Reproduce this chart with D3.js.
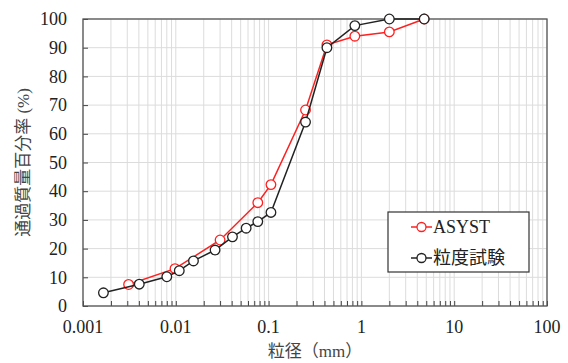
<!DOCTYPE html>
<html>
<head>
<meta charset="utf-8">
<script src="https://cdn.jsdelivr.net/npm/d3@7"></script>
<style>
  body { margin: 0; background: #fff; }
  svg text { font-family: "Liberation Serif", "Noto Sans CJK JP", serif; fill: #222; }
</style>
</head>
<body>
<div id="chart"></div>
<script>
// grain size (mm) vs passing percentage
const asystSize = [0.0031, 0.0098, 0.030, 0.0765, 0.106, 0.25, 0.425, 0.85, 2.0, 4.75];
const asystPass = [7.5, 13.0, 23.0, 36.0, 42.3, 68.3, 91.0, 94.0, 95.5, 100];
const testSize = [0.00166, 0.00404, 0.0080, 0.0109, 0.0155, 0.0265, 0.0408, 0.0573, 0.0765, 0.106, 0.25, 0.425, 0.85, 2.0, 4.75];
const testPass = [4.6, 7.6, 10.2, 12.3, 15.7, 19.5, 24.1, 27.1, 29.4, 32.6, 64.1, 90.0, 97.7, 100, 100];
const xTicks = [0.001, 0.01, 0.1, 1, 10, 100];
const xTickLabels = ["0.001", "0.01", "0.1", "1", "10", "100"];
const yTicks = [0, 10, 20, 30, 40, 50, 60, 70, 80, 90, 100];

const series = [
  { name: "ASYST", color: "#ff2020", size: asystSize, pass: asystPass },
  { name: "粒度試験", color: "#222222", size: testSize, pass: testPass }
];

const W = 568, H = 363;
const margin = { top: 19, right: 21, bottom: 57, left: 83 };
const cw = W - margin.left - margin.right;
const ch = H - margin.top - margin.bottom;

const svg = d3.select("#chart").append("svg")
  .attr("width", W)
  .attr("height", H);

const g = svg.append("g")
  .attr("transform", `translate(${margin.left},${margin.top})`);

const x = d3.scaleLog().domain([0.001, 100]).range([0, cw]);
const y = d3.scaleLinear().domain([0, 100]).range([ch, 0]);

// minor positions 1..9 in each decade
const minor = [];
for (let e = -3; e < 2; e++) {
  for (let m = 1; m <= 9; m++) minor.push(m * Math.pow(10, e));
}
minor.push(100);

// gridlines
g.append("g").classed("gridlines x", true)
  .selectAll("line").data(minor).join("line")
  .attr("x1", d => x(d)).attr("x2", d => x(d))
  .attr("y1", 0).attr("y2", ch)
  .style("stroke", "#dcdcdc").style("stroke-width", "1px");

g.append("g").classed("gridlines y", true)
  .selectAll("line").data(yTicks).join("line")
  .attr("x1", 0).attr("x2", cw)
  .attr("y1", d => y(d)).attr("y2", d => y(d))
  .style("stroke", "#dcdcdc").style("stroke-width", "1px");

// axes with inward ticks
const axisX = d3.axisBottom(x).tickValues(minor).tickSize(-5).tickFormat("");
const gx = g.append("g")
  .attr("transform", `translate(0,${ch})`)
  .classed("axis x bottom", true)
  .call(axisX);
gx.select(".domain").remove();
gx.selectAll(".tick line").style("stroke", "#444").style("stroke-width", "1px");

g.append("g").classed("xlabels", true)
  .selectAll("text").data(xTicks).join("text")
  .attr("x", d => x(d))
  .attr("y", ch + 23)
  .attr("text-anchor", "middle")
  .attr("dominant-baseline", "middle")
  .style("font-size", "18px")
  .text((d, i) => xTickLabels[i]);

const axisY = d3.axisLeft(y).tickValues(yTicks).tickSize(-5).tickPadding(16).tickFormat(d3.format("d"));
const gy = g.append("g").classed("axis y left", true).call(axisY);
gy.select(".domain").remove();
gy.selectAll(".tick line").style("stroke", "#444").style("stroke-width", "1px");
gy.selectAll(".tick text")
  .style("font-size", "18px")
  .style("font-family", "'Liberation Serif', serif")
  .attr("fill", "#222");

// frame
g.append("rect")
  .attr("width", cw).attr("height", ch)
  .style("fill", "none").style("stroke", "#555").style("stroke-width", "1.3px");

// series
const lineFn = d3.line()
  .x(d => x(d[0]))
  .y(d => y(d[1]));

series.forEach(s => {
  const pts = s.size.map((v, i) => [v, s.pass[i]]);
  const sg = g.append("g").classed("series", true);
  sg.append("path")
    .datum(pts)
    .attr("d", lineFn)
    .style("fill", "none")
    .style("stroke", s.color)
    .style("stroke-width", "1.5px");
  sg.selectAll("circle").data(pts).join("circle")
    .attr("cx", d => x(d[0]))
    .attr("cy", d => y(d[1]))
    .attr("r", 4.8)
    .style("fill", "#fff")
    .style("stroke", s.color)
    .style("stroke-width", "1.3px");
});

// legend
const lg = svg.append("g").attr("transform", "translate(388,212)");
lg.append("rect")
  .attr("width", 141).attr("height", 60)
  .style("fill", "#fff").style("stroke", "#333").style("stroke-width", "1.2px");
series.forEach((s, i) => {
  const yy = 15 + i * 31;
  lg.append("line")
    .attr("x1", 23).attr("x2", 44).attr("y1", yy).attr("y2", yy)
    .style("stroke", s.color).style("stroke-width", "1.5px");
  lg.append("circle")
    .attr("cx", 33.5).attr("cy", yy).attr("r", 4.5)
    .style("fill", "#fff").style("stroke", s.color).style("stroke-width", "1.3px");
  lg.append("text")
    .attr("x", 45).attr("y", yy)
    .attr("dominant-baseline", "central")
    .style("font-size", "18px")
    .text(s.name);
});

// axis titles
svg.append("text")
  .attr("x", margin.left + cw / 2)
  .attr("y", 353)
  .attr("text-anchor", "middle")
  .attr("dominant-baseline", "middle")
  .style("font-size", "17px")
  .style("fill", "#444")
  .text("粒径（mm）");

svg.append("text")
  .attr("transform", `translate(25,${margin.top + ch / 2}) rotate(-90)`)
  .attr("text-anchor", "middle")
  .attr("dominant-baseline", "middle")
  .style("font-size", "17px")
  .style("fill", "#444")
  .text("通過質量百分率 (%)");
</script>
</body>
</html>
